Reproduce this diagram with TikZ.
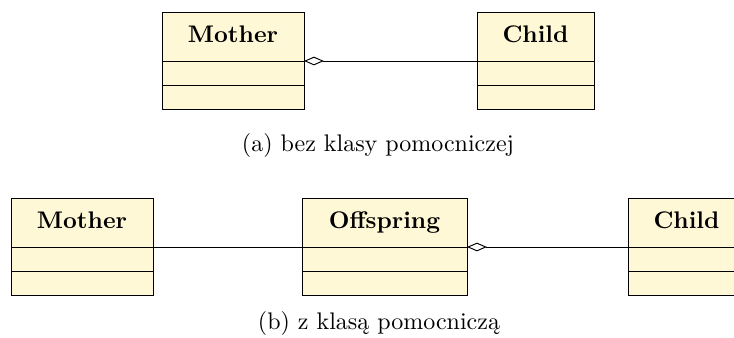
\documentclass[tikz,border=0pt]{standalone}
\usetikzlibrary{arrows.meta}
\definecolor{umlfill}{RGB}{255,248,214}
\tikzset{
  classhead/.style={draw, fill=umlfill, inner sep=0pt, outer sep=0pt,
                    minimum height=49*0.4167pt, text height=6.9pt, text depth=1.94pt,
                    font=\bfseries, anchor=north west},
  classpart/.style={draw, fill=umlfill, inner sep=0pt, outer sep=0pt,
                    minimum height=24*0.4167pt, anchor=north},
  aggr/.style={{Diamond[open,length=8.3pt,width=3.6pt]}-},
  assoc/.style={-},
}
% UML class: name, x, y, width (all in px units), title
\newcommand\umlclass[5]{%
  \node[classhead, minimum width=#4*0.4167pt] (#1) at (#2,#3) {#5};
  \node[classpart, minimum width=#4*0.4167pt] (#1a) at (#1.south) {};
  \node[classpart, minimum width=#4*0.4167pt] (#1b) at (#1a.south) {};
}
\begin{document}
\begin{tikzpicture}[x=0.4167pt, y=-0.4167pt]
  \useasboundingbox (0,0) rectangle (734,338);

  % (a) without helper class
  \umlclass{mothA}{162}{12}{142}{Mother}
  \umlclass{childA}{477}{12}{117}{Child}
  \draw[aggr] (mothA.south east) -- (childA.south west);
  \node (capA) at (378,145) {(a) bez klasy pomocniczej};

  % (b) with helper class
  \umlclass{mothB}{11}{198}{142}{Mother}
  \umlclass{offB}{302}{198}{165}{Offspring}
  \umlclass{childB}{628}{198}{117}{Child}
  \draw[assoc] (mothB.south east) -- (offB.south west);
  \draw[aggr] (offB.south east) -- (childB.south west);
  \node (capB) at (379,323) {(b) z klasą pomocniczą};
\end{tikzpicture}
\end{document}
